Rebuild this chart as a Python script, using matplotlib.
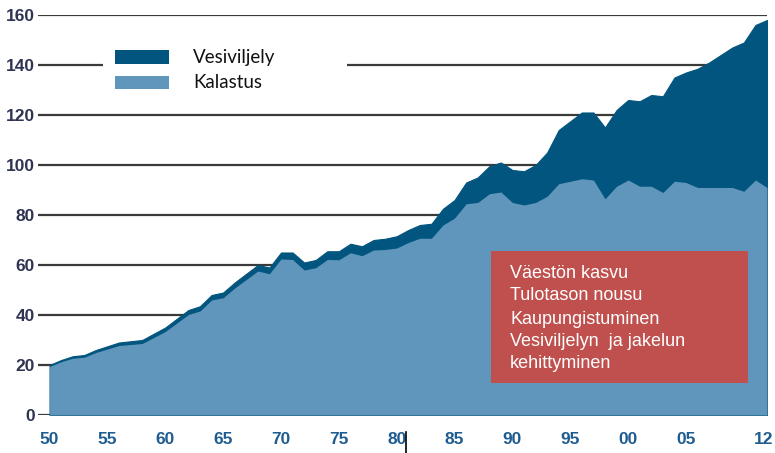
import matplotlib
matplotlib.use("Agg")
import matplotlib.pyplot as plt
from matplotlib.patches import Rectangle
from matplotlib.lines import Line2D
from matplotlib.transforms import ScaledTranslation
import numpy as np

years = list(range(1950, 2013))
kalastus = [19.4, 21.3, 22.7, 23.1, 25.0, 26.4, 27.8, 28.2, 28.6, 31.0,
            33.4, 36.8, 40.2, 41.6, 46.0, 46.9, 50.8, 54.2, 57.6, 56.5,
            62.4, 62.2, 58.0, 58.9, 62.2, 62.1, 64.9, 63.7, 66.0, 66.2,
            66.8, 69.0, 70.7, 70.7, 76.0, 78.8, 84.5, 85.0, 88.5, 89.2,
            85.0, 84.0, 85.0, 87.5, 92.5, 93.5, 94.5, 94.0, 86.5, 91.5,
            94.0, 91.5, 91.5, 89.0, 93.5, 93.0, 91.0, 91.0, 91.0, 91.0,
            89.5, 94.0, 91.0]
vesiviljely = [0.6, 0.7, 0.8, 0.9, 1.0, 1.1, 1.2, 1.3, 1.4, 1.5,
               1.6, 1.7, 1.8, 1.9, 2.0, 2.1, 2.2, 2.3, 2.4, 2.5,
               2.6, 2.8, 3.0, 3.1, 3.3, 3.4, 3.6, 3.8, 4.0, 4.3,
               4.7, 5.0, 5.3, 5.8, 6.5, 7.2, 8.5, 10.0, 11.0, 11.8,
               13.0, 13.5, 15.0, 17.5, 21.5, 24.0, 26.5, 27.0, 28.5, 30.5,
               32.0, 34.0, 36.5, 38.5, 41.5, 44.0, 47.5, 50.0, 53.0, 56.0,
               59.5, 62.0, 67.0]
y_ticks = [0, 20, 40, 60, 80, 100, 120, 140, 160]
x_tick_years = [1950, 1955, 1960, 1965, 1970, 1975, 1980, 1985, 1990, 1995, 2000, 2005, 2012]
x_tick_labels = ["50", "55", "60", "65", "70", "75", "80", "85", "90", "95", "00", "05", "12"]
legend_labels = ["Vesiviljely", "Kalastus"]
box_lines = ["Väestön kasvu", "Tulotason nousu", "Kaupungistuminen",
             "Vesiviljelyn  ja jakelun", "kehittyminen"]

DARK = "#02557f"
LIGHT = "#6096bb"

W, H = 775, 453
fig = plt.figure(figsize=(W / 100, H / 100), dpi=100)
ax = fig.add_axes([38 / W, 1 - 415 / H, (767 - 38) / W, (415 - 15) / H])

yrs = np.array(years)
k = np.array(kalastus)
tot = k + np.array(vesiviljely)

for t in y_ticks:
    ax.axhline(t, color="#3a3a3a", lw=1.6, zorder=0)

ax.fill_between(yrs, 0, tot, color=DARK, lw=0.8, edgecolor=DARK, zorder=2)
ax.fill_between(yrs, 0, k, color=LIGHT, lw=0, zorder=3)

ax.set_xlim(1949, 2012)
ax.set_ylim(0, 160)
for s in ax.spines.values():
    s.set_visible(False)
ax.set_facecolor("none")

tick_font = ["Liberation Sans", "DejaVu Sans"]
ax.set_yticks(y_ticks)
ax.set_yticklabels([str(t) for t in y_ticks], fontsize=12.5, fontweight="bold",
                   color="#2e3452", family=tick_font)
ax.set_xticks(x_tick_years)
ax.set_xticklabels(x_tick_labels, fontsize=12.5, fontweight="bold",
                   color="#1f5c90", family=tick_font)
ax.tick_params(axis="y", length=0, pad=2.5)
ax.tick_params(axis="x", length=0, pad=12)
last = ax.get_xticklabels()[-1]
last.set_transform(last.get_transform() + ScaledTranslation(-3 / 100, 0, fig.dpi_scale_trans))

def fx(px):
    return px / W

def fy(py):
    return 1 - py / H

# legend (white box covering gridline)
fig.add_artist(Rectangle((fx(103), fy(100)), (347 - 103) / W, 60 / H,
                         transform=fig.transFigure, facecolor="white", edgecolor="none", zorder=5))
fig.add_artist(Rectangle((fx(115), fy(64)), 54 / W, 14 / H,
                         transform=fig.transFigure, facecolor=DARK, edgecolor="none", zorder=6))
fig.add_artist(Rectangle((fx(115), fy(89)), 54 / W, 13 / H,
                         transform=fig.transFigure, facecolor=LIGHT, edgecolor="none", zorder=6))
leg_font = ["Lato", "DejaVu Sans"]
fig.text(fx(193), fy(57), legend_labels[0], fontsize=13.5, family=leg_font,
         color="#111111", va="center", ha="left", zorder=7)
fig.text(fx(193), fy(82), legend_labels[1], fontsize=13.5, family=leg_font,
         color="#111111", va="center", ha="left", zorder=7)

# red annotation box
fig.add_artist(Rectangle((fx(491), fy(383)), (748 - 491) / W, (383 - 251) / H,
                         transform=fig.transFigure, facecolor="#c0504d", edgecolor="none", zorder=8))
line_y = [273, 296, 319, 342, 364]
for txt, py in zip(box_lines, line_y):
    fig.text(fx(510), fy(py), txt, fontsize=13, family=["Liberation Sans", "DejaVu Sans"],
             color="white", va="center", ha="left", zorder=9)

# small cursor mark near "80"
fig.add_artist(Line2D([fx(406), fx(406)], [fy(432), fy(453)], transform=fig.transFigure,
                      color="black", lw=1.2, zorder=10))

fig.savefig("out.png", dpi=100)
